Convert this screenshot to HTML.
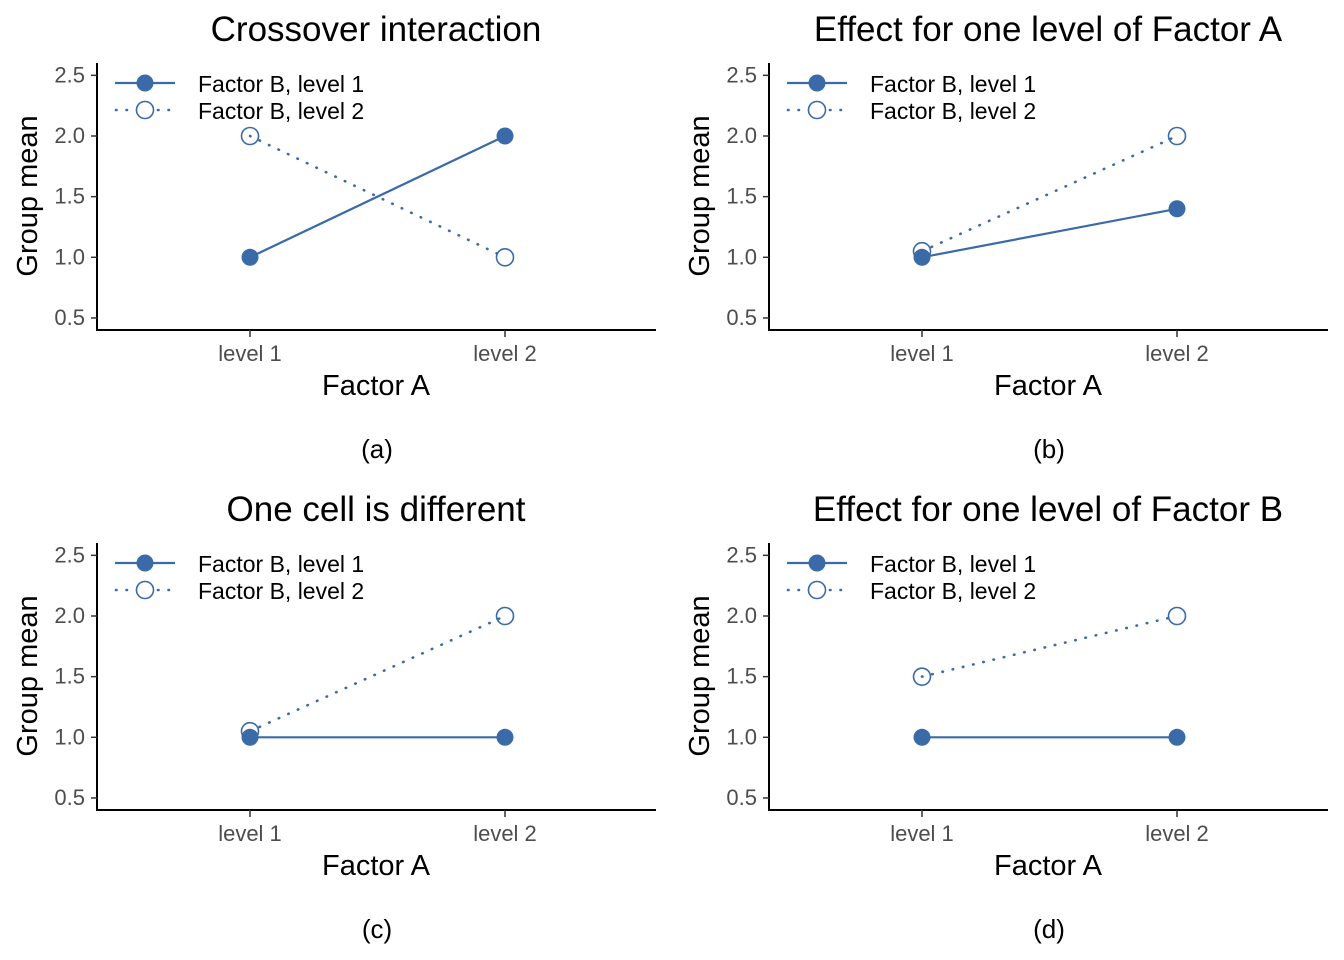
<!DOCTYPE html>
<html><head><meta charset="utf-8"><style>
body{margin:0;background:#fff;}
svg{display:block;font-family:"Liberation Sans",Arial,sans-serif;}
</style></head><body>
<svg id="chart" width="1344" height="960" viewBox="0 0 1344 960"></svg>
<script>
const titles=["Crossover interaction","Effect for one level of Factor A","One cell is different","Effect for one level of Factor B"];
const captions=["(a)","(b)","(c)","(d)"];
const categories=["level 1","level 2"];
const seriesB1=[[1,2],[1,1.4],[1,1],[1,1]];
const seriesB2=[[2,1],[1.05,2],[1.05,2],[1.5,2]];
const yTicks=[0.5,1.0,1.5,2.0,2.5];
const legendLabels=["Factor B, level 1","Factor B, level 2"];
const C="#3b6aa8";
const NS="http://www.w3.org/2000/svg";
const svg=document.getElementById('chart');
function mk(tag,attrs,parent,text){const e=document.createElementNS(NS,tag);for(const k in attrs)e.setAttribute(k,attrs[k]);if(text!==undefined)e.textContent=text;parent.appendChild(e);return e;}
for(let p=0;p<4;p++){
  const ox=(p%2)*672, oy=Math.floor(p/2)*480;
  const g=mk('g',{transform:`translate(${ox},${oy})`},svg);
  
  
  const y=v=>257.3-(v-1)*121.3;
  const x=i=>250+i*255;
  const t=mk('text',{x:376,y:41,'text-anchor':'middle','font-size':35,fill:'#000'},g,titles[p]);
  
  const ya=mk('line',{x1:97,y1:63,x2:97,y2:331,stroke:'#000','stroke-width':2},g);
  
  const xa=mk('line',{x1:96,y1:330,x2:656,y2:330,stroke:'#000','stroke-width':2},g);
  
  yTicks.forEach(v=>{
    mk('line',{x1:91,y1:y(v),x2:97,y2:y(v),stroke:'#333','stroke-width':1.5},g);
    const l=mk('text',{x:85,y:y(v)+7,'text-anchor':'end','font-size':22,fill:'#4d4d4d'},g,v.toFixed(1));
    
  });
  categories.forEach((c,i)=>{
    mk('line',{x1:x(i),y1:330,x2:x(i),y2:337,stroke:'#333','stroke-width':1.5},g);
    const l=mk('text',{x:x(i),y:361,'text-anchor':'middle','font-size':22,fill:'#4d4d4d'},g,c);
    
  });
  const xt=mk('text',{x:376,y:395,'text-anchor':'middle','font-size':29,fill:'#000'},g,"Factor A");
  
  const yt=mk('text',{x:0,y:0,'text-anchor':'middle','font-size':29,fill:'#000',transform:'translate(37,196) rotate(-90)'},g,"Group mean");
  
  const cap=mk('text',{x:377,y:458,'text-anchor':'middle','font-size':26,fill:'#000'},g,captions[p]);
  
  const b2=seriesB2[p], b1=seriesB1[p];
  const l2=mk('line',{x1:x(0),y1:y(b2[0]),x2:x(1),y2:y(b2[1]),stroke:C,'stroke-width':2.6,'stroke-dasharray':'0.5 10','stroke-linecap':'round'},g);
  
  const l1=mk('line',{x1:x(0),y1:y(b1[0]),x2:x(1),y2:y(b1[1]),stroke:C,'stroke-width':2.2},g);
  
  b1.forEach((v,i)=>{const c=mk('circle',{cx:x(i),cy:y(v),r:8.5,fill:C},g);
    });
  b2.forEach((v,i)=>{const c=mk('circle',{cx:x(i),cy:y(v),r:8.5,fill:'none',stroke:C,'stroke-width':1.6},g);
    });
  const lg=mk('g',{},g);
  
  mk('line',{x1:115,y1:83,x2:175,y2:83,stroke:C,'stroke-width':2.2},lg);
  mk('circle',{cx:145,cy:83,r:8.5,fill:C},lg);
  mk('line',{x1:116,y1:110,x2:175,y2:110,stroke:C,'stroke-width':2.6,'stroke-dasharray':'0.5 10','stroke-linecap':'round'},lg);
  mk('circle',{cx:145,cy:110,r:8.5,fill:'#fff',stroke:C,'stroke-width':1.6},lg);
  legendLabels.forEach((s,i)=>{const e=mk('text',{x:198,y:92+i*27,'font-size':23,fill:'#000'},lg,s);
    });
}
</script>
</body></html>
